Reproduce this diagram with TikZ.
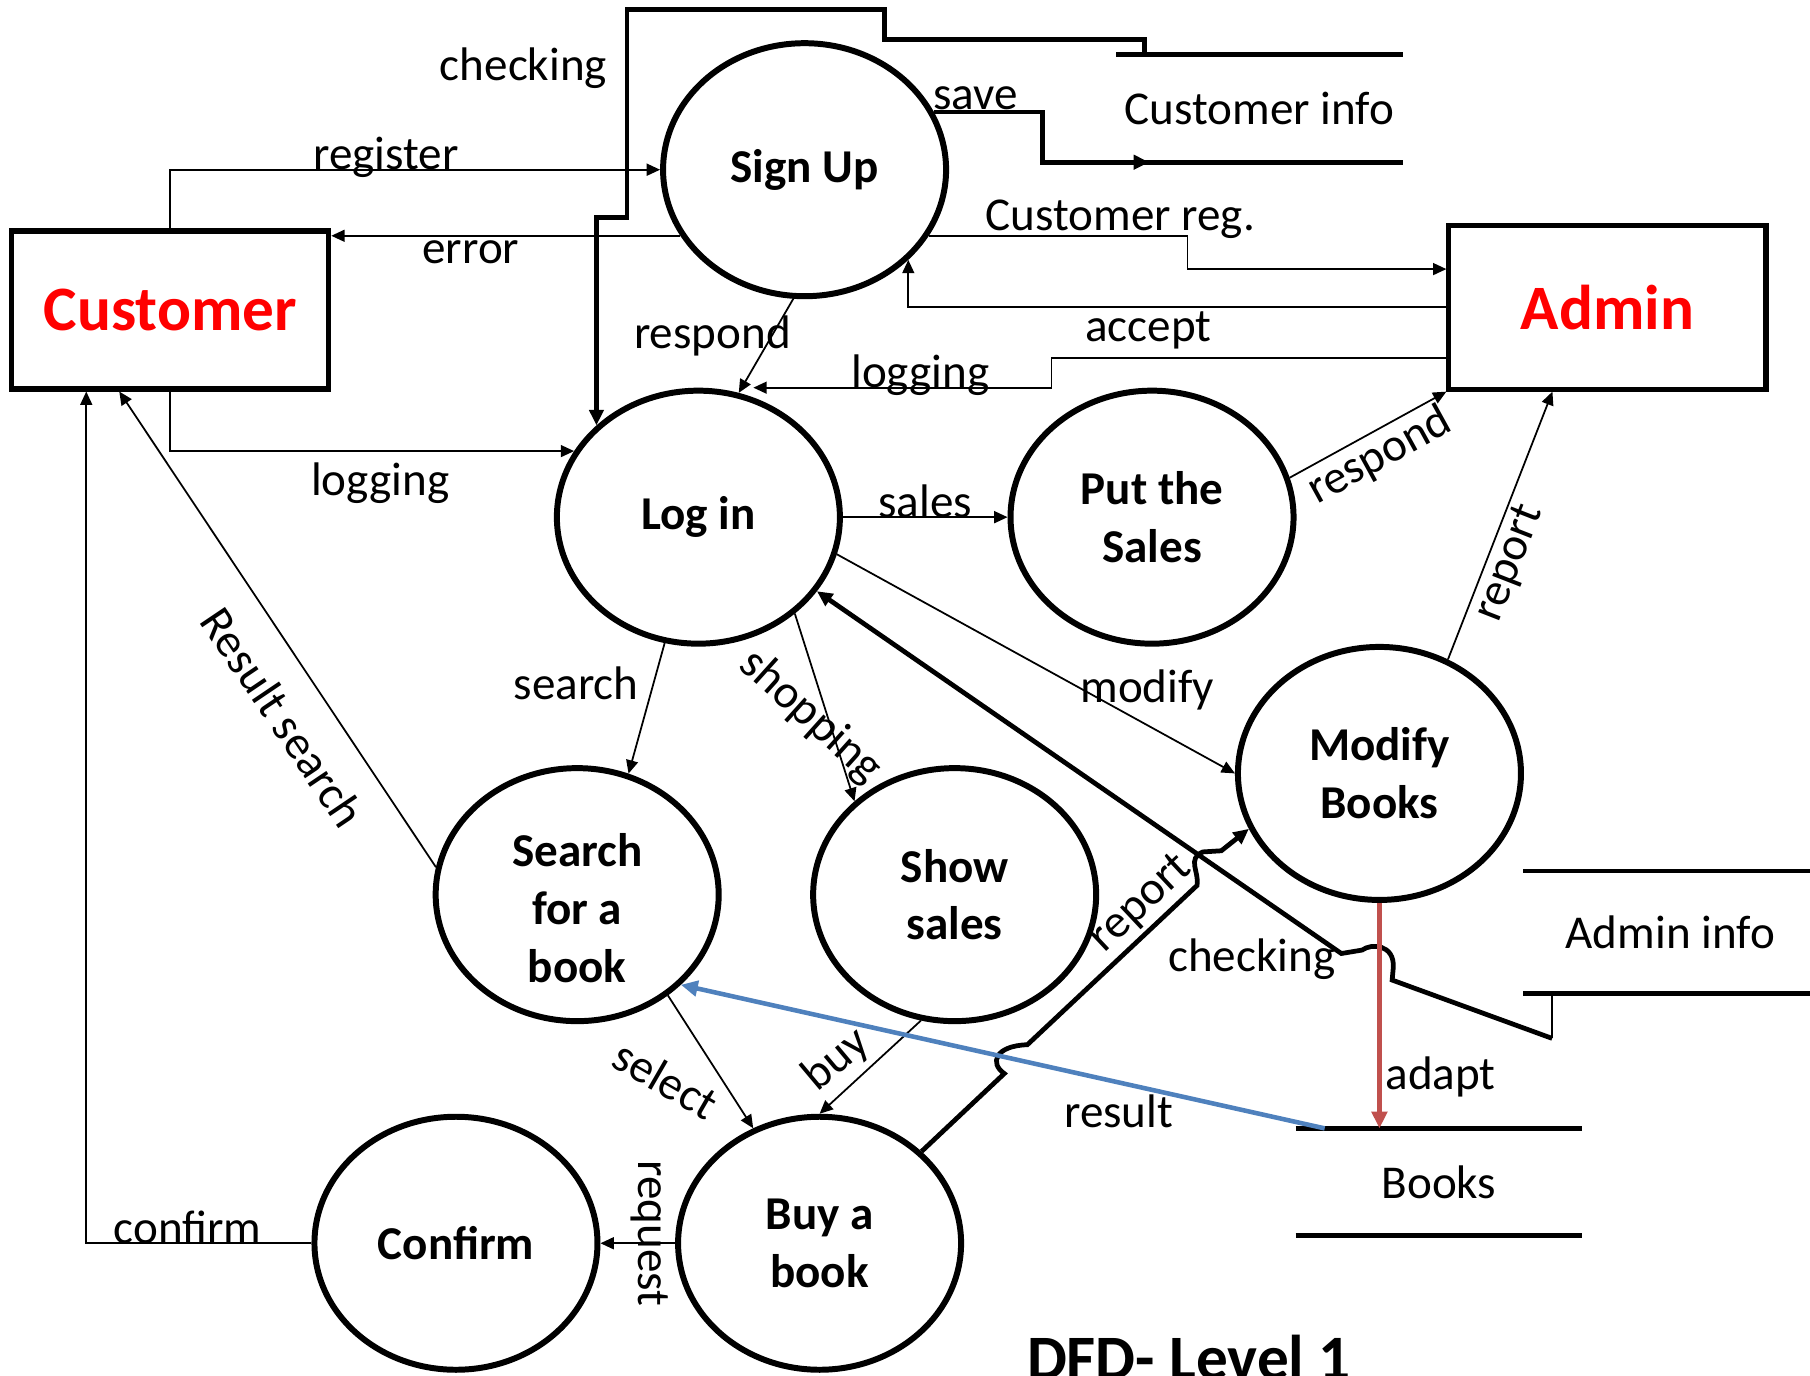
\documentclass[tikz,border=0pt]{standalone}
\usepackage{fontspec}
\setmainfont{Carlito}
\usepackage{xcolor}
\usetikzlibrary{shapes.geometric, arrows.meta}
\definecolor{resblue}{HTML}{4F81BD}
\definecolor{adaptred}{HTML}{C0504D}
\newcommand{\lblfont}{\fontsize{13.4pt}{16.4pt}\selectfont}
\newcommand{\entfont}{\fontsize{18pt}{21pt}\selectfont\bfseries}
\tikzstyle{process}   = [ellipse, draw=black, line width=1.7pt, minimum width=28.3mm,
                         minimum height=25.3mm, inner sep=0pt, align=center,
                         font=\lblfont\bfseries]
\tikzstyle{entity}    = [rectangle, draw=black, line width=1.45pt, minimum width=31.7mm,
                         minimum height=15.8mm, text=red, font=\entfont]
\tikzstyle{store}     = [inner sep=0pt, minimum width=28.5mm, minimum height=10.6mm,
                         font=\lblfont]
\tikzstyle{storeline} = [line width=1.35pt]
\tikzstyle{flow}      = [-{Triangle[length=3.8pt, width=3.4pt]}, line width=0.5pt]
\tikzstyle{bflow}     = [-{Triangle[length=4.4pt, width=4pt]}, line width=1.35pt]
\tikzstyle{lbl}       = [inner sep=1pt, font=\lblfont]

\begin{document}
\begin{tikzpicture}[x=0.11543mm, y=-0.11543mm]
  \useasboundingbox (0,0) rectangle (1568,1192);

  % Entities
  \node[entity] (cust) at (147.5,268.5) {Customer};
  \node[entity, minimum height=16.4mm] (admin) at (1392.5,266) {Admin};

  % Processes
  \node[process] (signup)  at (697,147)  {Sign Up};
  \node[process] (login)   at (605,448)  {Log in};
  \node[process] (sales)   at (998,448)  {Put the\\Sales};
  \node[process] (modify)  at (1195,670) {Modify\\Books};
  \node[process] (search)  at (500,775)
    {\raisebox{0pt}[\height][\dimexpr\depth-10.5pt\relax]{%
      \begin{tabular}{@{}c@{}}Search\\for a\\book\end{tabular}}};
  \node[process] (show)    at (827,775)  {Show\\sales};
  \node[process] (confirm) at (395,1077) {Confirm};
  \node[process] (buy)     at (710,1077) {Buy a\\book};

  % Data stores
  \node[store] (cinfo) at (1091,94) {Customer info};
  \node[store, minimum width=29.3mm, minimum height=12.1mm] (ainfo) at (1447,807.5) {Admin info};
  \node[store] (books) at (1246.5,1024) {Books};
  \foreach \st in {cinfo, ainfo, books} {
    \draw[storeline] (\st.north west) -- (\st.north east);
    \draw[storeline] (\st.south west) -- (\st.south east);
  }

  % Customer flows
  \draw[flow] (cust.north) |- (signup.west)
    node[lbl, pos=0.72, anchor=base] (lReg) {register};
  \draw[flow] (signup.208) -- (signup.208 -| cust.east)
    node[lbl, pos=0.6, below] (lErr) {error};
  \draw[flow] (cust.south) |- (login.152)
    node[lbl, pos=0.76, below=2pt] (lLogC) {logging};
  \draw[flow] (confirm.west) -| ([xshift=-8.4mm]cust.south)
    node[lbl, pos=0.275, anchor=base] (lConf) {confirm};
  \draw[flow] (search.169) -- ([xshift=-5.1mm]cust.south)
    node[lbl, pos=0.315, xshift=-5.3mm, rotate=-56] (lRes) {Result search};

  % Sign Up flows
  \draw[bflow] (signup.24) -- ++(94,0)
    node[lbl, pos=0.38, anchor=base, yshift=0.3mm] (lSave) {save}
    |- ([xshift=3.3mm]cinfo.south west);
  \draw[flow] (signup.-28) -- ++(224,0)
    node[lbl, pos=0.74, anchor=base, yshift=1.5pt] (lCReg) {Customer reg.}
    |- ([yshift=3.8mm]admin.west);
  \draw[flow] (admin.west) -| (signup.-41.5)
    node[lbl, pos=0.277, below] (lAcc) {accept};
  \draw[flow] ([yshift=-5.1mm]admin.west) -- ++(-342,0) |- ([xshift=5.5mm]login.north)
    node[lbl, pos=0.72, anchor=base] (lLogA) {logging};
  \draw[flow] (signup.-95) -- (login.72)
    node[lbl, pos=0.4, xshift=-5.9mm] (lResp) {respond};
  \draw[bflow] ([xshift=2.8mm]cinfo.north west) -- ++(0,-13) -| ++(-225,-26)
    -| ++(-223,180) node[lbl, pos=0.64, left=4pt] (lChk) {checking}
    -| (login.138);

  % Log in flows
  \draw[flow] (login.east) -- (sales.west)
    node[lbl, midway, anchor=base] (lSales) {sales};
  \draw[flow] (login.-15) -- (modify.west)
    node[lbl, pos=0.78, above=3pt] (lMod) {modify};
  \draw[flow] (login.-105) -- (search.67)
    node[lbl, pos=0.31, left=3pt] (lSearch) {search};
  \draw[flow] (login.-45) -- (show.137)
    node[lbl, pos=0.55, xshift=-1.7mm, rotate=-42] (lShop) {shopping};

  % Admin flows
  \draw[flow] (sales.16) -- (admin.south west)
    node[lbl, midway, sloped, below] (lResp2) {respond};
  \draw[flow] (modify.59) -- ([xshift=-5.5mm]admin.south)
    node[lbl, pos=0.39, sloped, below] (lRep) {report};

  % Buying
  \draw[flow] (search.-48) -- (buy.120)
    node[lbl, pos=0.63, xshift=-5.6mm, rotate=-30] (lSel) {select};
  \draw[flow] (show.-105) -- (buy.north)
    node[lbl, pos=0.42, xshift=-4.2mm, rotate=40] (lBuy) {buy};
  \draw[flow] (buy.west) -- (confirm.east)
    node[lbl, midway, xshift=1.2mm, yshift=1mm, rotate=-90] (lReq) {request};

  % Report and checking with jumps
  \draw[bflow] (buy.42) -- (870,930) .. controls (857,921) and (862,906) .. (890,905)
    -- (1037,767) node[lbl, pos=0.77, sloped, above] (lRep2) {report}
    .. controls (1039,755) and (1028,744) .. (1042,738) -- (1058,737) -- (modify.203);
  \coordinate (ckTop) at ([xshift=2.9mm]ainfo.south west);
  \draw[line width=0.5pt] (ckTop) -- ++(0,39) coordinate (ckEnd);
  \draw[bflow] (ckEnd) -- (1206,849) -- (1207,838)
    .. controls (1208,818) and (1188,817) .. (1180,823) -- (1162,826)
    node[lbl, anchor=east, yshift=-0.6mm] (lChk2) {checking} -- (login.-32);

  % Books
  \draw[-{Triangle[length=4.8pt, width=4.4pt]}, adaptred, line width=1.5pt]
    (modify.south) -- (modify.south |- books.north)
    node[lbl, pos=0.77, anchor=west, black] (lAdapt) {adapt};
  \draw[-{Triangle[length=4.8pt, width=4.4pt]}, resblue, line width=1.3pt]
    ([xshift=2.9mm]books.north west) -- (search.-41)
    node[lbl, pos=0.32, below=2pt, black] (lResult) {result};

  % Title
  \node[font=\entfont, anchor=base] (title) at (1030,1195) {DFD- Level 1};
\end{tikzpicture}
\end{document}
